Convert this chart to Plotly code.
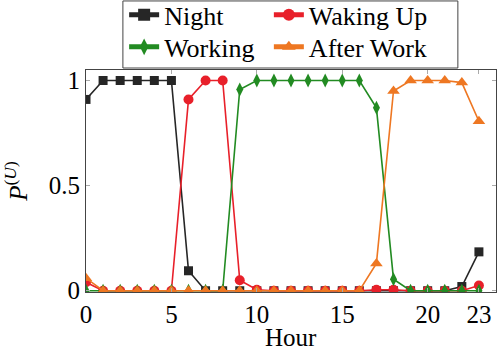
import plotly.graph_objects as go

hours = list(range(24))
night = [0.91, 1, 1, 1, 1, 1, 0.095, 0, 0, 0, 0, 0, 0, 0, 0, 0, 0, 0, 0, 0, 0, 0, 0.02, 0.185]
waking_up = [0.04, 0, 0, 0, 0, 0, 0.91, 1, 1, 0.05, 0.005, 0, 0, 0, 0, 0, 0, 0.005, 0.005, 0, 0, 0, 0, 0.025]
working = [0, 0, 0, 0, 0, 0, 0, 0, 0, 0.957, 1, 1, 1, 1, 1, 1, 1, 0.87, 0.055, 0, 0, 0, 0, 0]
after_work = [0.06, 0, 0, 0, 0, 0, 0, 0, 0, 0, 0, 0, 0, 0, 0, 0, 0, 0.13, 0.95, 1, 1, 1, 0.99, 0.806]

x_ticks = [0, 5, 10, 15, 20, 23]
y_ticks = [0, 0.5, 1]
y_tick_text = ["0", "0.5", "1"]

series = [
    ("Night", night, "#262626", "square", 9, "legend"),
    ("Waking Up", waking_up, "#e8202a", "circle", 10, "legend2"),
    ("Working", working, "#228b22", "diamond-tall", 10, "legend3"),
    ("After Work", after_work, "#ee7722", "triangle-up", 11, "legend4"),
]

FONT = "Times New Roman, Liberation Serif, Tinos, DejaVu Serif, serif"

fig = go.Figure()
for name, vals, color, sym, size, leg in series:
    fig.add_trace(go.Scatter(
        x=hours, y=vals, name=name, mode="lines+markers", legend=leg,
        line=dict(color=color, width=1.6),
        marker=dict(symbol=sym, size=size, color=color, line=dict(width=0)),
    ))

axis_common = dict(
    showgrid=False, zeroline=False, showline=True, linecolor="#444444", linewidth=1,
    mirror="allticks", ticks="inside", ticklen=4, tickcolor="#aaaaaa",
    tickfont=dict(family=FONT, size=25, color="black"),
)

leg_common = dict(
    orientation="v", xanchor="left", yanchor="middle", xref="paper", yref="paper",
    bgcolor="rgba(0,0,0,0)", borderwidth=0,
    font=dict(family=FONT, size=26, color="black"),
    itemsizing="constant",
)

fig.update_layout(
    width=499, height=356,
    margin=dict(l=86, r=3, t=70, b=64, autoexpand=False),
    paper_bgcolor="white", plot_bgcolor="white",
    font=dict(family=FONT, size=25, color="black"),
    xaxis=dict(range=[0, 24], tickvals=x_ticks, ticktext=[str(t) for t in x_ticks],
               automargin=False,
               **axis_common),
    yaxis=dict(range=[-0.006, 1.05], tickvals=y_ticks, ticktext=y_tick_text,
               title=dict(text="<i>P</i><sup>(<i>U</i>)</sup>", font=dict(family=FONT, size=25), standoff=22),
               automargin=False,
               **axis_common),
    legend=dict(x=0.093, y=1.248, **leg_common),
    legend2=dict(x=0.446, y=1.248, **leg_common),
    legend3=dict(x=0.093, y=1.104, **leg_common),
    legend4=dict(x=0.446, y=1.104, **leg_common),
    showlegend=True,
    shapes=[dict(type="rect", xref="paper", yref="paper", x0=0.090, x1=0.907, y0=1.009, y1=1.311,
                 line=dict(color="#444444", width=1), fillcolor="white", layer="below")],
    annotations=[dict(text="Hour", xref="paper", yref="paper", x=0.5, y=-0.203,
                      xanchor="center", yanchor="middle", showarrow=False,
                      font=dict(family=FONT, size=25, color="black"))],
)

fig.write_html("out.html", config={"displayModeBar": False},
               post_script="document.body.style.margin='0px';document.body.style.overflow='hidden';")
